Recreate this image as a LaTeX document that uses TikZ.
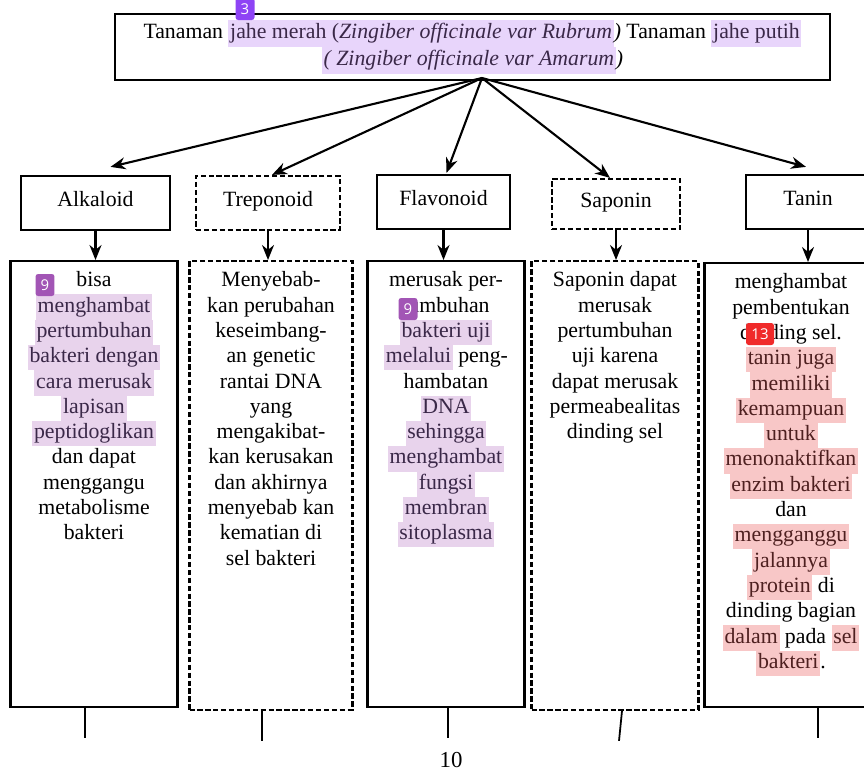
\documentclass[tikz,border=0pt]{standalone}
\usepackage{fontspec}
\setmainfont{Liberation Serif}
\newfontfamily\badgefont{Open Sans}
\usetikzlibrary{arrows.meta}
\definecolor{hlviolet}{HTML}{E8D5FB}
\definecolor{hlpurple}{HTML}{E8D3EC}
\definecolor{hlred}{HTML}{F8C7C7}
\definecolor{txpurple}{HTML}{3A2848}
\definecolor{txred}{HTML}{4E2020}
\definecolor{bdviolet}{HTML}{8E44F5}
\definecolor{bdpurple}{HTML}{A255B5}
\definecolor{bdred}{HTML}{F02A2A}
\newcommand{\hlv}[1]{{\setlength{\fboxsep}{0pt}\colorbox{hlviolet}{\kern1pt\strut\color{txpurple}#1\kern1pt}}}
\newcommand{\hlp}[1]{{\setlength{\fboxsep}{0pt}\colorbox{hlpurple}{\kern1pt\strut\color{txpurple}#1\kern1pt}}}
\newcommand{\hlr}[1]{{\setlength{\fboxsep}{0pt}\colorbox{hlred}{\kern1pt\strut\color{txred}#1\kern1pt}}}
\newcommand{\bodytext}{\fontsize{12.4}{14.4}\selectfont}
\begin{document}
\begin{tikzpicture}[x=0.02cm,y=-0.02cm,
  head/.style={draw,line width=1.3pt,align=center,font=\fontsize{12.4}{15.4}\selectfont},
  lbl/.style={draw,line width=1.3pt,minimum height=1.08cm,text height=9pt,text depth=5pt,font=\bodytext},
  lbldash/.style={lbl,dash pattern=on 3pt off 1.5pt},
  body/.style={draw,line width=1.3pt,anchor=north,inner xsep=2pt,inner ysep=6pt,font=\bodytext},
  bodydash/.style={body,dash pattern=on 3pt off 1.5pt},
  arr/.style={-{Stealth[length=3mm,width=2.4mm]},line width=1.2pt},
  tick/.style={line width=1pt},
  badge/.style={rounded corners=1.5pt,text=white,font=\badgefont\fontsize{8.5}{9}\selectfont,inner sep=1.2pt,minimum height=0.44cm,minimum width=0.38cm}]
\clip (0,0) rectangle (864,772);
\node[head,minimum width=14.3cm,minimum height=1.2cm] (title) at (472.5,47)
  {Tanaman \hlv{jahe merah (\textit{Zingiber officinale var Rubrum}}\textit{)} Tanaman \hlv{jahe putih}\\
   \hlv{\textit{( Zingiber officinale var Amarum}}\textit{)}};
\node[badge,fill=bdviolet] (b3) at (245,9) {3};
\coordinate (hub) at (482,78);
\node[lbl,minimum width=2.98cm] (alk) at (95.5,203) {Alkaloid};
\node[lbldash,minimum width=2.88cm] (trep) at (268,203) {Treponoid};
\node[lbl,minimum width=2.66cm] (flav) at (443.5,202) {Flavonoid};
\node[lbldash,minimum width=2.56cm,minimum height=1.0cm] (sapo) at (616,204) {Saponin};
\node[lbl,minimum width=2.48cm] (tan) at (808,202) {Tanin};
\draw[arr] (hub) -- ([shift={(15,-8)}]alk.north);
\draw[arr] (hub) -- ([shift={(4,0)}]trep.north);
\draw[arr] (hub) -- ([shift={(3,-1)}]flav.north);
\draw[arr] (hub) -- ([shift={(-6,0)}]sapo.north);
\draw[arr] (hub) -- ([shift={(-2,-7)}]tan.north);
\node[body] (alkB) at (94,260) {\parbox[t][8.5cm][t]{3.2cm}{\centering
  bisa\\ \hlp{menghambat}\\ \hlp{pertumbuhan}\\ \hlp{bakteri dengan}\\ \hlp{cara merusak}\\
  \hlp{lapisan}\\ \hlp{peptidoglikan}\\ dan dapat\\ menggangu\\ metabolisme\\ bakteri}};
\node[bodydash] (trepB) at (271,260) {\parbox[t][8.55cm][t]{3.12cm}{\centering
  Menyebab-\\ kan perubahan\\ keseimbang-\\ an genetic\\ rantai DNA\\ yang\\ mengakibat-\\
  kan kerusakan\\ dan akhirnya\\ menyebab kan\\ kematian di\\ sel bakteri}};
\node[body] (flavB) at (446,260) {\parbox[t][8.5cm][t]{3.0cm}{\centering
  merusak per-\\ tumbuhan\\ \hlp{bakteri uji}\\ \hlp{melalui} peng-\\ hambatan\\ \hlp{DNA}\\
  \hlp{sehingga}\\ \hlp{menghambat}\\ \hlp{fungsi}\\ \hlp{membran}\\ \hlp{sitoplasma}}};
\node[bodydash] (sapoB) at (615,260) {\parbox[t][8.55cm][t]{3.2cm}{\centering
  Saponin dapat\\ merusak\\ pertumbuhan\\ uji karena\\ dapat merusak\\ permeabealitas\\ dinding sel}};
\node[body] (tanB) at (791,262) {\parbox[t][8.45cm][t]{3.32cm}{\centering
  menghambat\\ pembentukan\\ dinding sel.\\ \hlr{tanin juga}\\ \hlr{memiliki}\\ \hlr{kemampuan}\\
  \hlr{untuk}\\ \hlr{menonaktifkan}\\ \hlr{enzim bakteri}\\ dan\\ \hlr{mengganggu}\\ \hlr{jalannya}\\
  \hlr{protein} di\\ dinding bagian\\ \hlr{dalam} pada \hlr{sel}\\ \hlr{bakteri}.}};
\node[badge,fill=bdpurple] (b9a) at (45,285) {9};
\node[badge,fill=bdpurple] (b9b) at (408,309) {9};
\node[badge,fill=bdred,minimum width=0.56cm] (b13) at (760,334) {13};
\draw[arr] (alk.south) -- (alk.south |- alkB.north);
\draw[arr] (trep.south) -- (trep.south |- trepB.north);
\draw[arr] (flav.south) -- (flav.south |- flavB.north);
\draw[arr] (sapo.south) -- (sapo.south |- sapoB.north);
\draw[arr] (tan.south) -- (tan.south |- tanB.north);
\draw[tick] ([shift={(-9,0)}]alkB.south) -- ++(0,30);
\draw[tick] ([shift={(-9,0)}]trepB.south) -- ++(0,30);
\draw[tick] ([shift={(2,0)}]flavB.south) -- ++(0,30);
\draw[tick] ([shift={(7,0)}]sapoB.south) -- ++(-3,30);
\draw[tick] ([shift={(27,0)}]tanB.south) -- ++(0,30);
\node[font=\fontsize{13}{15}\selectfont] (pagenum) at (451,760) {10};
\end{tikzpicture}
\end{document}
